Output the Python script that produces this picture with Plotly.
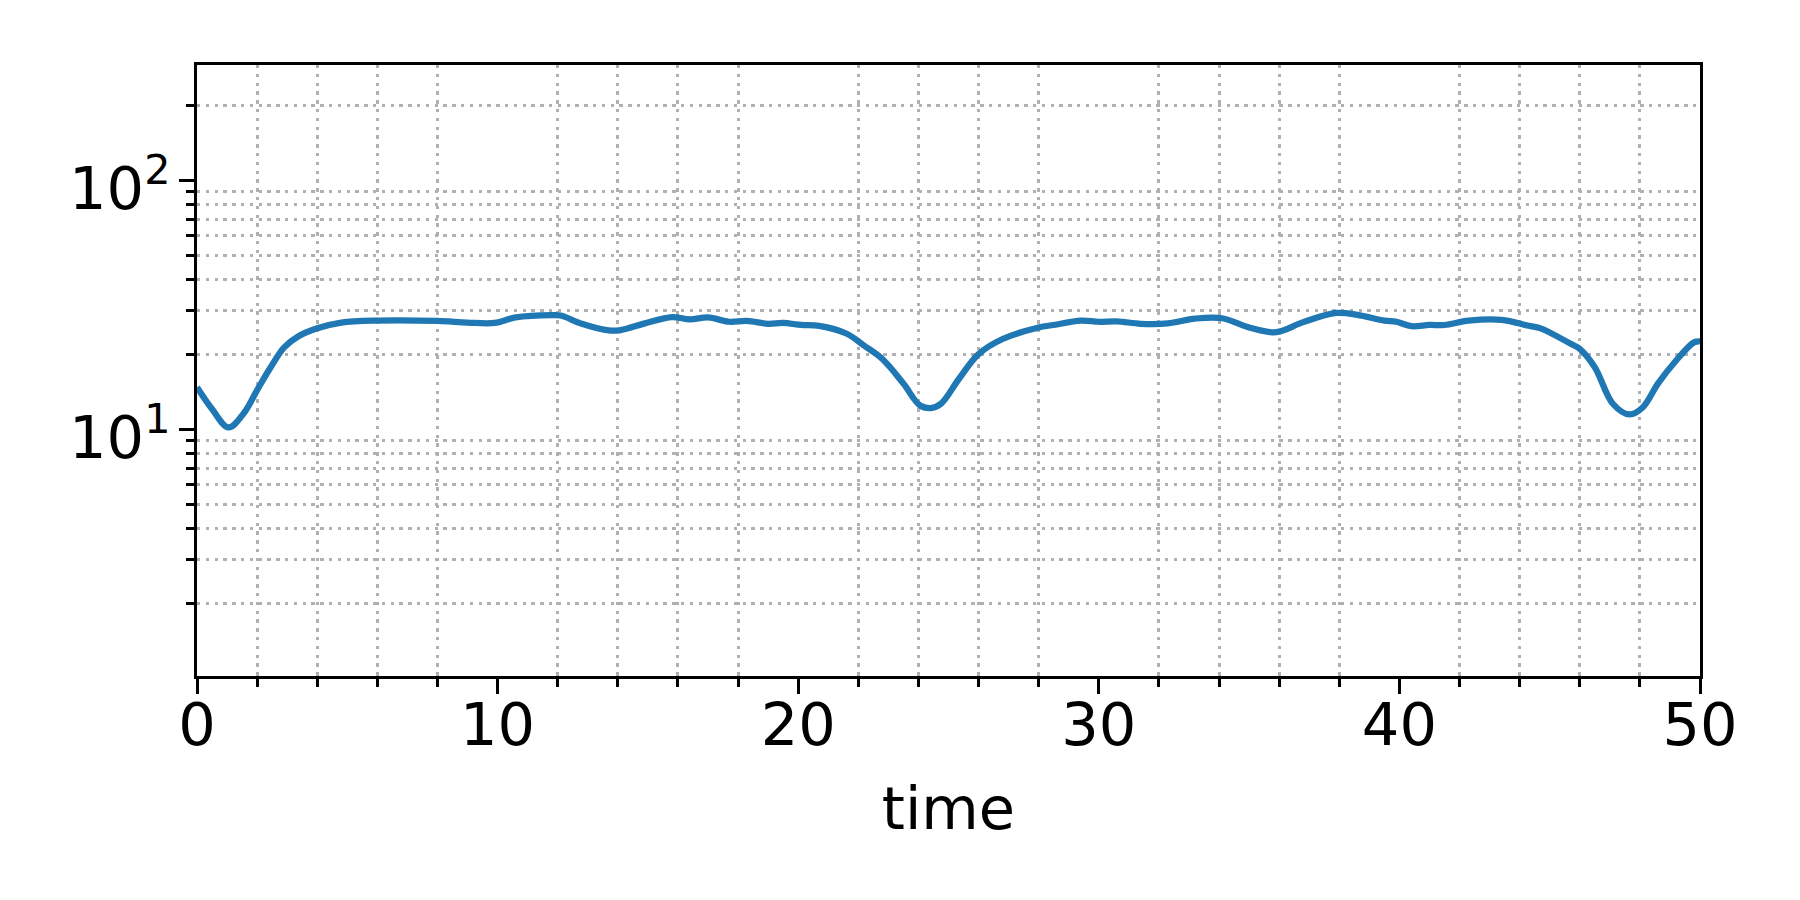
import plotly.graph_objects as go

# ---- data ----
time_vals = [0, 0.5, 1.05, 1.55, 2.0, 2.45, 2.9, 3.35, 4.0, 4.8, 6.0, 8.0, 9.0, 9.9,
             10.6, 11.8, 12.1, 12.8, 13.7, 14.1, 14.9, 15.8, 16.4, 17.0, 17.7, 18.3,
             19.0, 19.5, 20.1, 20.7, 21.6, 22.2, 22.8, 23.5, 24.05, 24.4, 24.75, 25.35,
             26.0, 26.8, 28.0, 28.5, 29.4, 30.0, 30.6, 31.4, 32.3, 33.2, 34.1, 35.0,
             35.9, 36.8, 37.9, 38.6, 39.5, 39.9, 40.4, 41.0, 41.5, 42.3, 43.4, 44.3,
             44.7, 45.7, 46.0, 46.5, 47.1, 47.65, 48.1, 48.6, 49.2, 49.8, 50.0]
series_vals = [14.8, 12.1, 10.2, 11.6, 14.4, 17.8, 21.4, 23.6, 25.5, 26.9, 27.4, 27.3, 26.9, 26.8,
               28.2, 28.8, 28.7, 26.6, 25.0, 25.1, 26.7, 28.3, 27.7, 28.2, 27.1, 27.3,
               26.6, 26.8, 26.3, 26.1, 24.3, 21.7, 19.2, 15.3, 12.5, 12.2, 12.7, 16.0,
               20.1, 23.1, 25.7, 26.3, 27.4, 27.1, 27.2, 26.6, 26.7, 27.9, 28.0, 25.7,
               24.6, 27.0, 29.4, 28.9, 27.4, 27.1, 26.0, 26.3, 26.3, 27.4, 27.6, 26.1,
               25.5, 22.1, 21.1, 17.8, 12.7, 11.5, 12.3, 15.3, 18.9, 22.4, 22.6]

x_major_ticks = [0, 10, 20, 30, 40, 50]
x_major_labels = ["0", "10", "20", "30", "40", "50"]
x_minor_ticks = [2, 4, 6, 8, 12, 14, 16, 18, 22, 24, 26, 28, 32, 34, 36, 38, 42, 44, 46, 48]
y_major_ticks = [10, 100]
y_major_labels = ["10<sup>1</sup>", "10<sup>2</sup>"]
y_minor_ticks = [2, 3, 4, 5, 6, 7, 8, 9, 20, 30, 40, 50, 60, 70, 80, 90, 200]

FONT = "DejaVu Sans"
GRID = "#b0b0b0"

fig = go.Figure()
fig.add_trace(go.Scatter(
    x=time_vals, y=series_vals, mode="lines",
    line=dict(color="#1f77b4", width=6.25, shape="spline", smoothing=1.0),
    showlegend=False, hoverinfo="skip",
))

# page body adds a small offset; margins compensate for it
fig.update_layout(
    width=1800, height=900,
    margin=dict(l=189, r=108, t=57, b=232, autoexpand=False),
    paper_bgcolor="white", plot_bgcolor="white",
    font=dict(family=FONT, size=59, color="black"),
)

fig.update_xaxes(
    range=[0, 50], automargin=False,
    tickmode="array", tickvals=x_major_ticks, ticktext=x_major_labels,
    ticks="outside", ticklen=14.6, tickwidth=3.3, tickcolor="black",
    ticklabelstandoff=-20,
    showgrid=False, zeroline=False,
    showline=True, linecolor="black", linewidth=3.3, mirror=True,
    tickfont=dict(family=FONT, size=59, color="black"),
    title=dict(text="time", font=dict(family=FONT, size=59, color="black"), standoff=31),
    minor=dict(tickmode="array", tickvals=x_minor_ticks, ticks="outside", ticklen=8.3,
               tickwidth=2.5, tickcolor="black", showgrid=True, gridcolor=GRID,
               gridwidth=3.3, griddash="3.3px,5.5px"),
)

fig.update_yaxes(
    type="log", range=[0.0104, 2.464], automargin=False,
    tickmode="array", tickvals=y_major_ticks, ticktext=y_major_labels,
    ticks="outside", ticklen=14.6, tickwidth=3.3, tickcolor="black",
    ticklabelshift=8, ticklabelstandoff=-3,
    showgrid=False, zeroline=False,
    showline=True, linecolor="black", linewidth=3.3, mirror=True,
    tickfont=dict(family=FONT, size=59, color="black"),
    minor=dict(tickmode="array", tickvals=y_minor_ticks, ticks="outside", ticklen=8.3,
               tickwidth=2.5, tickcolor="black", showgrid=True, gridcolor=GRID,
               gridwidth=3.3, griddash="3.3px,5.5px"),
)

fig.write_html("out.html")
